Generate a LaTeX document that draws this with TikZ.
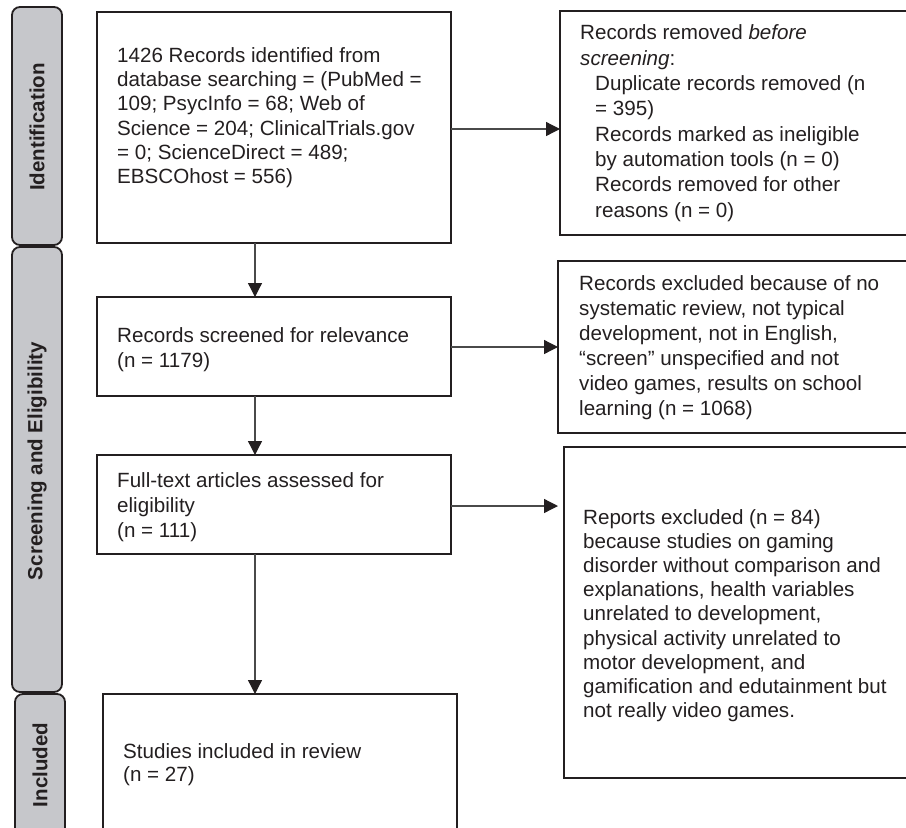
\documentclass[tikz,border=0pt]{standalone}
\usepackage{fontspec}
\setmainfont{Liberation Sans}
\usetikzlibrary{arrows.meta,calc}
\definecolor{barfill}{HTML}{C6C7CB}
\definecolor{ink}{HTML}{231F20}
\definecolor{linegray}{HTML}{4A4A4A}
\tikzset{
  box/.style={draw=ink, line width=2.2pt, inner sep=0pt, outer sep=0pt, anchor=north west},
  sidebar/.style={draw=ink, line width=1.8pt, fill=barfill, rounded corners=8pt, inner sep=0pt, outer sep=0pt, anchor=north west},
  barlabel/.style={rotate=90, font=\fontsize{20.5}{24}\selectfont\bfseries, text=ink, inner sep=0pt},
  txt/.style={align=left, inner sep=0pt, anchor=north west, text=ink, font=\fontsize{20.6}{24.6}\selectfont},
  flow/.style={draw=linegray, line width=1.3pt, -{Triangle[length=14pt,width=14pt,color=ink]}},
}
\begin{document}
\begin{tikzpicture}[x=1pt,y=-1pt]
\useasboundingbox (0,0) rectangle (906,828);
\clip (0,0) rectangle (906,828);
% side bars
\node[sidebar, minimum width=50pt, minimum height=238pt] (s1) at (12,7) {};
\node[sidebar, minimum width=50pt, minimum height=445pt] (s2) at (12,247) {};
\node[sidebar, minimum width=50pt, minimum height=160pt] (s3) at (15,694) {};
\node[barlabel] (l1) at (37,127) {Identification};
\node[barlabel] (l2) at (37,461) {Screening and Eligibility};
\node[barlabel] (l3) at (40,765) {Included};
% boxes
\node[box, minimum width=354pt, minimum height=231pt] (b1) at (97,12) {};
\node[box, minimum width=352pt, minimum height=224pt] (b2) at (560,11) {};
\node[box, minimum width=354pt, minimum height=99pt] (b3) at (97,297) {};
\node[box, minimum width=354pt, minimum height=99pt] (b4) at (97,455) {};
\node[box, minimum width=354pt, minimum height=172pt] (b5) at (558,261) {};
\node[box, minimum width=348pt, minimum height=331pt] (b6) at (564,447) {};
\node[box, minimum width=354pt, minimum height=160pt] (b7) at (103,694) {};
% texts
\node[txt, font=\fontsize{20.6}{24.3}\selectfont] (t1) at (117,45) {\strut 1426 Records identified from\\database searching = (PubMed =\\109; PsycInfo = 68; Web of\\Science = 204; ClinicalTrials.gov\\= 0; ScienceDirect = 489;\\EBSCOhost = 556)};
\node[txt, font=\fontsize{20.6}{25.3}\selectfont] (t2) at (580,22) {\strut Records removed \textit{before}\\\textit{screening}:\\\hspace*{15pt}Duplicate records removed (n\\\hspace*{15pt}= 395)\\\hspace*{15pt}Records marked as ineligible\\\hspace*{15pt}by automation tools (n = 0)\\\hspace*{15pt}Records removed for other\\\hspace*{15pt}reasons (n = 0)};
\node[txt, font=\fontsize{20.6}{25}\selectfont] (t3) at (117,325) {\strut Records screened for relevance\\(n = 1179)};
\node[txt, font=\fontsize{20.6}{25}\selectfont] (t4) at (117,470) {\strut Full-text articles assessed for\\eligibility\\(n = 111)};
\node[txt, font=\fontsize{20.6}{25}\selectfont] (t5) at (579,273) {\strut Records excluded because of no\\systematic review, not typical\\development, not in English,\\``screen'' unspecified and not\\video games, results on school\\learning (n = 1068)};
\node[txt, font=\fontsize{20.6}{24.2}\selectfont] (t6) at (583,507) {\strut Reports excluded (n = 84)\\because studies on gaming\\disorder without comparison and\\explanations, health variables\\unrelated to development,\\physical activity unrelated to\\motor development, and\\gamification and edutainment but\\not really video games.};
\node[txt, font=\fontsize{20.6}{23}\selectfont] (t7) at (123,742) {\strut Studies included in review\\(n = 27)};
% connectors
\coordinate (col) at (255,0);
\draw[flow] (b1.south -| col) -- (b3.north -| col);
\draw[flow] (b3.south -| col) -- (b4.north -| col);
\draw[flow] (b4.south -| col) -- (b7.north -| col);
\draw[flow] ([yshift=-1.5pt]b1.east) -- ([yshift=-1.5pt]b1.east -| b2.west);
\draw[flow] ([yshift=-0.5pt]b3.east) -- ([yshift=-0.5pt]b3.east -| b5.west);
\draw[flow, shorten >=6pt] ([yshift=-1.5pt]b4.east) -- ([yshift=-1.5pt]b4.east -| b6.west);
\end{tikzpicture}
\end{document}
